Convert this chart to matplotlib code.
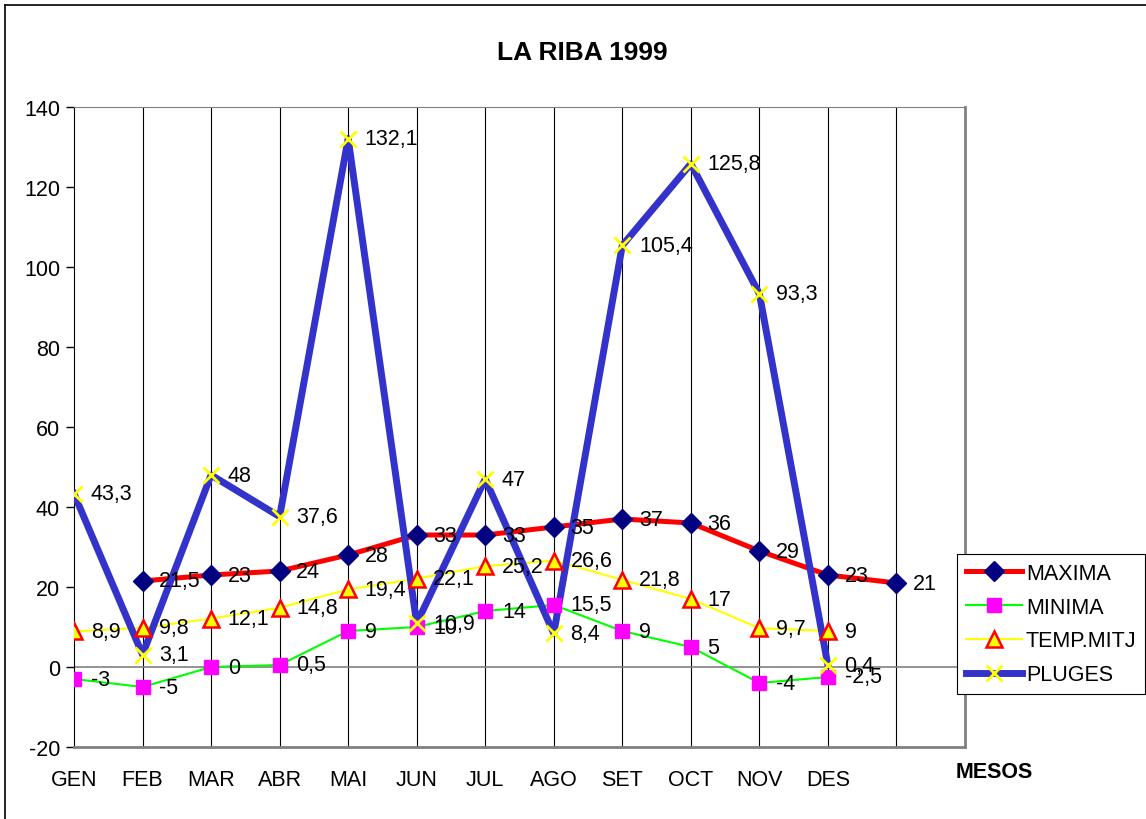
import numpy as np
from matplotlib import pyplot as plt
from matplotlib.lines import Line2D

plt.rcParams['font.family'] = ['Liberation Sans', 'DejaVu Sans']
plt.rcParams['axes.unicode_minus'] = False

mesos = ['GEN', 'FEB', 'MAR', 'ABR', 'MAI', 'JUN', 'JUL', 'AGO', 'SET', 'OCT', 'NOV', 'DES']
maxima = [np.nan, 21.5, 23, 24, 28, 33, 33, 35, 37, 36, 29, 23, 21]
minima = [-3, -5, 0, 0.5, 9, 10, 14, 15.5, 9, 5, -4, -2.5]
temp_mitj = [8.9, 9.8, 12.1, 14.8, 19.4, 22.1, 25.2, 26.6, 21.8, 17, 9.7, 9]
pluges = [43.3, 3.1, 48, 37.6, 132.1, 10.9, 47, 8.4, 105.4, 125.8, 93.3, 0.4]


def fmt(v):
    if float(v).is_integer():
        return str(int(v))
    return str(v).replace('.', ',')


fig = plt.figure(figsize=(11.46, 8.2), dpi=100)
ax = fig.add_axes([74 / 1146, 1 - 748 / 820, 891 / 1146, 640 / 820])

# marc de la figura
fig.add_artist(Line2D([5 / 1146, 5 / 1146], [0, 1 - 6 / 820], transform=fig.transFigure, color='black', lw=1.2))
fig.add_artist(Line2D([5 / 1146, 1], [1 - 6 / 820, 1 - 6 / 820], transform=fig.transFigure, color='black', lw=1.2))

series = [
    ('MAXIMA', maxima, dict(color='red', lw=3.6, marker='D', ms=10, mfc='#000080', mec='#000080')),
    ('MINIMA', minima, dict(color='#00ff00', lw=1.5, marker='s', ms=10, mfc='magenta', mec='magenta')),
    ('TEMP.MITJ', temp_mitj, dict(color='yellow', lw=1.5, marker='^', ms=11, mfc='yellow', mec='red', mew=1.8)),
    ('PLUGES', pluges, dict(color='#3333cc', lw=5, marker='x', ms=11, mfc='yellow', mec='yellow', mew=2)),
]

handles = []
for i, (name, vals, st) in enumerate(series):
    x = np.arange(len(vals))
    ax.plot(x, vals, color=st['color'], lw=st['lw'], zorder=3 + i * 0.1, solid_joinstyle='round')
    ax.plot(x, vals, ls='none', marker=st['marker'], ms=st['ms'], mfc=st['mfc'], mec=st['mec'],
            mew=st.get('mew', 1), zorder=5)
    for xi, v in zip(x, vals):
        if np.isnan(v):
            continue
        ax.annotate(fmt(v), (xi, v), xytext=(12, 0), textcoords='offset points',
                    ha='left', va='center', fontsize=15.5, zorder=6)
    handles.append(Line2D([], [], color=st['color'], lw=st['lw'], marker=st['marker'], ms=st['ms'],
                          mfc=st['mfc'], mec=st['mec'], mew=st.get('mew', 1)))

ax.set_xlim(0, 13)
ax.set_ylim(-20, 140)
ax.set_yticks(np.arange(-20, 141, 20))
ax.set_xticks(range(len(mesos)))
ax.set_xticklabels(mesos, fontsize=15.5)
ax.tick_params(axis='y', labelsize=15.5, direction='out', length=6, width=1, pad=4)
ax.tick_params(axis='x', length=0, pad=16)

for xv in range(1, 13):
    ax.axvline(xv, color='black', lw=0.8, zorder=1)
ax.axhline(0, color='#808080', lw=1.2, zorder=1)

ax.spines['left'].set_color('black')
ax.spines['top'].set_color('#808080')
ax.spines['right'].set_color('#808080')
ax.spines['right'].set_linewidth(2)
ax.spines['bottom'].set_color('#808080')
ax.spines['bottom'].set_linewidth(2)

fig.text(582 / 1146, 1 - 53 / 820, 'LA RIBA 1999', ha='center', va='center', fontsize=19, fontweight='bold')
fig.text(994 / 1146, 1 - 773 / 820, 'MESOS', ha='center', va='center', fontsize=15.5, fontweight='bold')

leg = fig.legend(handles, [s[0] for s in series], loc='upper left', bbox_to_anchor=(957 / 1146, 1 - 555 / 820),
                 bbox_transform=fig.transFigure, borderaxespad=0, fontsize=15.5, handlelength=2.6,
                 handletextpad=0.2, labelspacing=0.6, fancybox=False, framealpha=1, borderpad=0.4)
leg.get_frame().set_edgecolor('black')
leg.get_frame().set_linewidth(0.8)
leg.set_zorder(10)

fig.savefig('out.png', dpi=100)
